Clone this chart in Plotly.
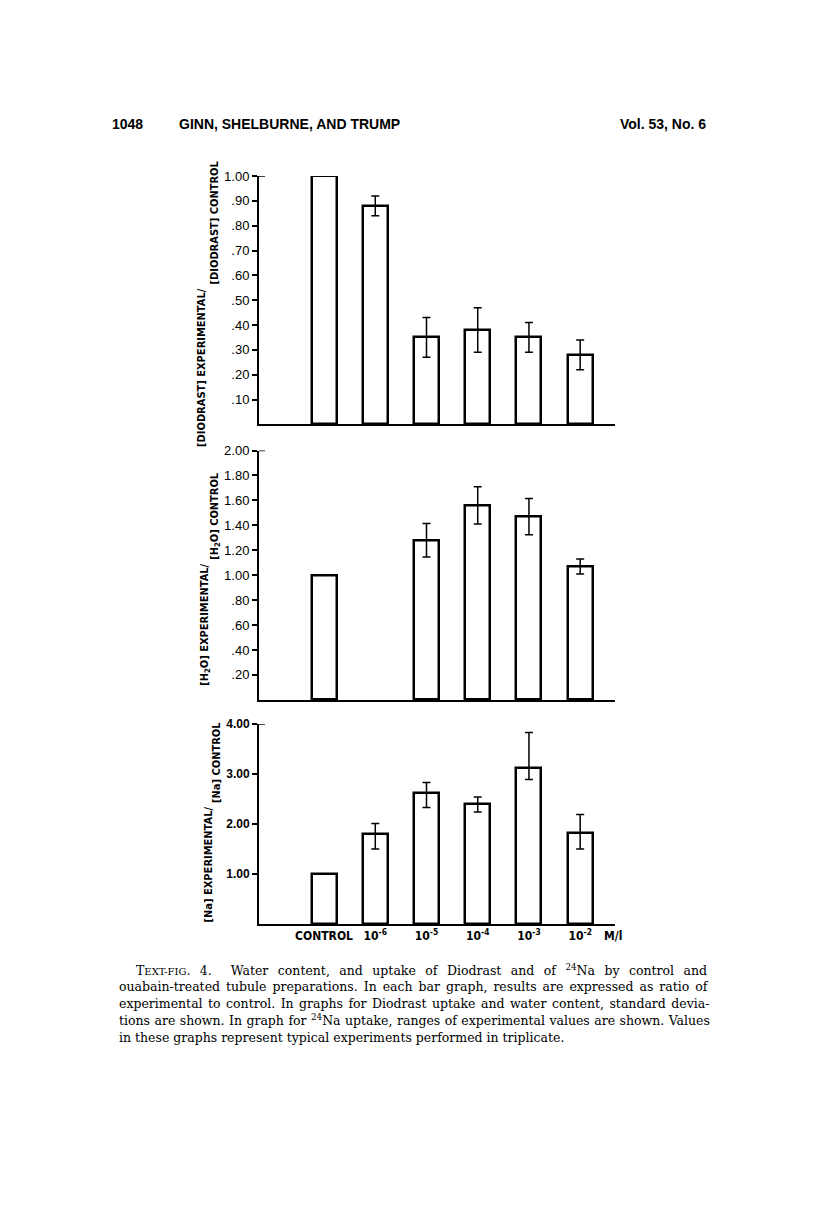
import plotly.graph_objects as go

# ---- data ----
conc_labels = ["CONTROL", "10<sup>-6</sup>", "10<sup>-5</sup>", "10<sup>-4</sup>", "10<sup>-3</sup>", "10<sup>-2</sup>"]
x_pos = [0, 1, 2, 3, 4, 5]

diodrast = [1.00, 0.88, 0.35, 0.38, 0.35, 0.28]
diodrast_sd = [None, 0.04, 0.08, 0.09, 0.06, 0.06]
diodrast_ticks = [0.1, 0.2, 0.3, 0.4, 0.5, 0.6, 0.7, 0.8, 0.9, 1.0]
diodrast_ticktext = [".10", ".20", ".30", ".40", ".50", ".60", ".70", ".80", ".90", "1.00"]

water = [1.00, None, 1.28, 1.56, 1.47, 1.07]
water_sd = [None, None, 0.135, 0.15, 0.145, 0.06]
water_ticks = [0.2, 0.4, 0.6, 0.8, 1.0, 1.2, 1.4, 1.6, 1.8, 2.0]
water_ticktext = [".20", ".40", ".60", ".80", "1.00", "1.20", "1.40", "1.60", "1.80", "2.00"]

sodium = [1.00, 1.81, 2.62, 2.41, 3.12, 1.83]
sodium_high = [None, 2.01, 2.83, 2.54, 3.83, 2.19]
sodium_low = [None, 1.50, 2.33, 2.24, 2.89, 1.50]
sodium_ticks = [1, 2, 3, 4]
sodium_ticktext = ["1.00", "2.00", "3.00", "4.00"]

caption = [
    "T<span style='font-size:10px'>EXT-FIG</span>. 4.  Water content, and uptake of Diodrast and of <sup>24</sup>Na by control and",
    "ouabain-treated tubule preparations. In each bar graph, results are expressed as ratio of",
    "experimental to control. In graphs for Diodrast uptake and water content, standard devia-",
    "tions are shown. In graph for <sup>24</sup>Na uptake, ranges of experimental values are shown. Values",
    "in these graphs represent typical experiments performed in triplicate.",
]
caption_wordspacing = [5.5, 2, 1.5, 0.5, 0]

# ---- page geometry helpers (pixels -> paper), corrected for the page margin ----
W, H = 816, 1229
DX, DY = 8, 12
def px(x):
    return (x - DX) / W
def py(y):
    return 1 - (y - DY) / H

NARROW = "DejaVu Sans Condensed, Liberation Sans Narrow, sans-serif"
SANS = "Liberation Sans, Arial, sans-serif"
SERIF = "DejaVu Serif, Liberation Serif, serif"

bar_style = dict(color="white", line=dict(color="black", width=2.5))
err_style = dict(color="black", thickness=1.5, width=4)

sodium_plus = [None if h is None else h - v for h, v in zip(sodium_high, sodium)]
sodium_minus = [None if l is None else v - l for l, v in zip(sodium_low, sodium)]

fig = go.Figure()
fig.add_trace(go.Bar(x=x_pos, y=diodrast, width=0.49, marker=bar_style,
                     error_y=dict(type="data", array=diodrast_sd, **err_style),
                     xaxis="x", yaxis="y", showlegend=False))
fig.add_trace(go.Bar(x=x_pos, y=water, width=0.49, marker=bar_style,
                     error_y=dict(type="data", array=water_sd, **err_style),
                     xaxis="x2", yaxis="y2", showlegend=False))
fig.add_trace(go.Bar(x=x_pos, y=sodium, width=0.49, marker=bar_style,
                     error_y=dict(type="data", symmetric=False, array=sodium_plus,
                                  arrayminus=sodium_minus, **err_style),
                     xaxis="x3", yaxis="y3", showlegend=False))

xdom = [px(259), px(615)]
xrng = [-1.27, 5.68]
xcommon = dict(domain=xdom, range=xrng, showline=True, linecolor="black", linewidth=2,
               showgrid=False, zeroline=False, ticks="", fixedrange=True)
ycommon = dict(showline=True, linecolor="black", linewidth=2, showgrid=False, zeroline=False,
               ticks="outside", ticklen=5, tickwidth=1.5, tickcolor="black", fixedrange=True)

fig.update_layout(
    width=W, height=H,
    margin=dict(l=0, r=0, t=0, b=0),
    paper_bgcolor="white", plot_bgcolor="white",
    bargap=0,
    xaxis=dict(anchor="y", showticklabels=False, **xcommon),
    xaxis2=dict(anchor="y2", showticklabels=False, **xcommon),
    xaxis3=dict(anchor="y3", tickvals=x_pos, ticktext=conc_labels,
                tickfont=dict(family=NARROW, size=12, color="black", weight="bold"), **xcommon),
    yaxis=dict(anchor="x", domain=[py(423.7), py(174)], range=[0, 1.0],
               tickvals=diodrast_ticks, ticktext=diodrast_ticktext,
               tickfont=dict(family=SANS, size=13, color="black"), **ycommon),
    yaxis2=dict(anchor="x2", domain=[py(700.8), py(450)], range=[0, 2.0],
                tickvals=water_ticks, ticktext=water_ticktext,
                tickfont=dict(family=SANS, size=13, color="black"), **ycommon),
    yaxis3=dict(anchor="x3", domain=[py(926.3), py(725)], range=[0, 4.0],
                tickvals=sodium_ticks, ticktext=sodium_ticktext,
                tickfont=dict(family=SANS, size=12, color="black", weight="bold"), **ycommon),
)

# short rightward stub at the top of each y axis
for yref, top in (("y", diodrast_ticks[-1]), ("y2", water_ticks[-1]), ("y3", sodium_ticks[-1])):
    xr = "x domain" if yref == "y" else "x" + yref[1:] + " domain"
    fig.add_shape(type="line", xref=xr, yref=yref, x0=0, x1=0.017, y0=top, y1=top,
                  line=dict(color="black", width=1.5))

title_font = dict(family=NARROW, size=11, color="black", weight="bold")
ytitles = [
    # numerator, denominator, x numerator, x denominator, junction y
    ("[DIODRAST] EXPERIMENTAL/", "[DIODRAST] CONTROL", 202, 214, 285),
    ("[H<sub>2</sub>O] EXPERIMENTAL/", "[H<sub>2</sub>O] CONTROL", 205, 215, 562),
    ("[Na] EXPERIMENTAL/", "[Na] CONTROL", 208, 217, 806),
]
for num, den, xn, xd, yj in ytitles:
    fig.add_annotation(text=num, x=px(xn), y=py(yj), xref="paper", yref="paper",
                       textangle=-90, xanchor="center", yanchor="top", showarrow=False, font=title_font)
    fig.add_annotation(text=den, x=px(xd), y=py(yj), xref="paper", yref="paper",
                       textangle=-90, xanchor="center", yanchor="bottom", showarrow=False, font=title_font)

fig.add_annotation(text="M/l", x=px(602), y=py(938), xref="paper", yref="paper",
                   xanchor="left", yanchor="middle", showarrow=False,
                   font=dict(family=NARROW, size=12, color="black", weight="bold"))

# running head
head_font = dict(family=SANS, size=14, color="black", weight="bold")
fig.add_annotation(text="1048", x=px(110), y=py(122), xref="paper", yref="paper",
                   xanchor="left", yanchor="middle", showarrow=False, font=head_font)
fig.add_annotation(text="GINN, SHELBURNE, AND TRUMP", x=px(177), y=py(122), xref="paper", yref="paper",
                   xanchor="left", yanchor="middle", showarrow=False, font=head_font)
fig.add_annotation(text="Vol. 53, No. 6", x=px(708), y=py(122), xref="paper", yref="paper",
                   xanchor="right", yanchor="middle", showarrow=False, font=head_font)

# caption
cap_font = dict(family=SERIF, size=12.5, color="black")
for i, (line, ws) in enumerate(zip(caption, caption_wordspacing)):
    x0 = 134 if i == 0 else 117
    fig.add_annotation(text="<span style='word-spacing:%spx'>%s</span>" % (ws, line),
                       x=px(x0), y=py(972 + 17 * i), xref="paper", yref="paper",
                       xanchor="left", yanchor="middle", showarrow=False, font=cap_font)

fig.write_html("out.html")
